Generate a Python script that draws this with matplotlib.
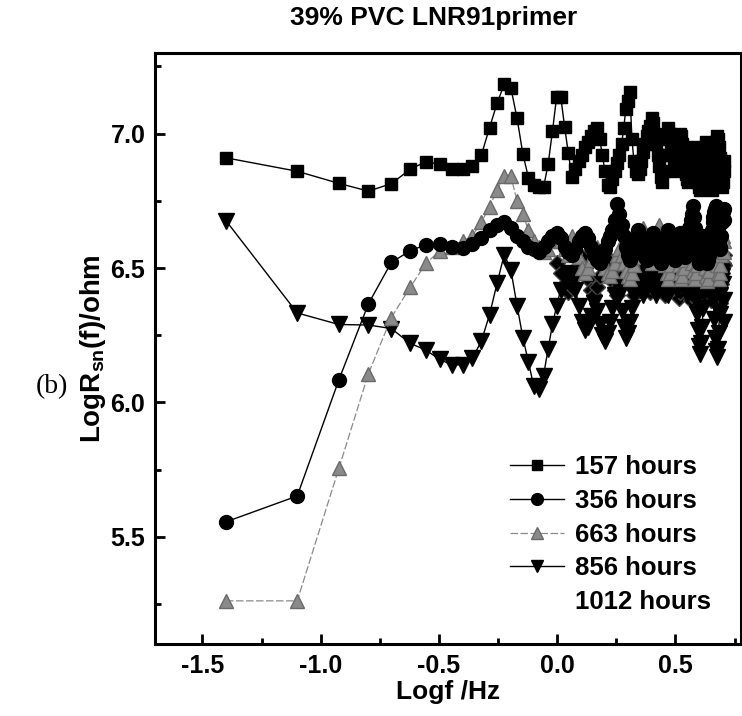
import numpy as np
import matplotlib
matplotlib.use("Agg")
import matplotlib.pyplot as plt
from matplotlib.lines import Line2D

plt.rcParams['font.family'] = ['Liberation Sans', 'DejaVu Sans']
plt.rcParams['font.weight'] = 'bold'
plt.rcParams['mathtext.fontset'] = 'custom'
plt.rcParams['mathtext.rm'] = 'Liberation Sans:bold'
plt.rcParams['mathtext.bf'] = 'Liberation Sans:bold'

# frequency grid: harmonics of the base frequency (Hz)
base_freq = 0.0398
harmonic = np.arange(1, 129)
logf = np.log10(harmonic * base_freq)

h157 = [6.91, 6.86, 6.815, 6.786, 6.814, 6.867, 6.896, 6.886, 6.867, 6.867, 6.879, 6.919,
        7.022, 7.113, 7.184, 7.171, 7.057, 6.923, 6.836, 6.81, 6.80, 6.80, 6.886, 7.01,
        7.138, 7.138, 7.026, 6.927,
        6.84, 6.87, 6.90,
        6.92, 6.95, 6.97, 6.99, 7.01, 7.02, 6.98,
        6.92, 6.86, 6.81, 6.80, 6.83, 6.86, 6.89,
        6.92, 6.96, 7.02, 7.09, 7.12,
        7.155, 6.98, 6.90, 6.86, 6.85, 6.87,
        6.90, 6.93, 6.96, 6.99, 7.01, 7.03, 7.06,
        7.04, 7.00, 6.96, 6.92, 6.88, 6.84, 6.82, 6.86,
        6.92, 6.98, 7.02, 7.00, 6.96, 6.92, 6.89, 6.86,
        6.88, 6.93, 6.97, 7.00, 6.99, 6.96, 6.92, 6.88, 6.85, 6.83,
        6.82, 6.84, 6.87, 6.90, 6.93, 6.95, 6.93, 6.89, 6.85, 6.82,
        6.80, 6.79, 6.81, 6.84, 6.88, 6.92, 6.95, 6.97, 6.95, 6.91, 6.87, 6.83, 6.80,
        6.79, 6.82, 6.86, 6.90, 6.94, 6.97, 6.99, 6.98, 6.95, 6.91, 6.87, 6.83, 6.80, 6.82, 6.86, 6.90]

h356 = [5.556, 5.652, 6.084, 6.367, 6.521, 6.564, 6.587, 6.59, 6.58, 6.575, 6.59, 6.61,
        6.64, 6.66, 6.67, 6.65, 6.62, 6.60, 6.58, 6.57, 6.56, 6.58, 6.60, 6.62, 6.63, 6.61, 6.58, 6.56,
        6.55, 6.57, 6.60, 6.62, 6.63, 6.61, 6.58, 6.55, 6.53, 6.52,
        6.54, 6.57, 6.60, 6.62, 6.64, 6.68, 6.74, 6.70, 6.66, 6.62,
        6.58, 6.55, 6.53, 6.55, 6.58, 6.61, 6.64, 6.62, 6.59, 6.56,
        6.54, 6.53, 6.55, 6.58, 6.61, 6.63, 6.61, 6.58, 6.55, 6.53,
        6.52, 6.54, 6.57, 6.60, 6.62, 6.64, 6.62, 6.59, 6.56, 6.54,
        6.53, 6.55, 6.58, 6.61, 6.63, 6.61, 6.58, 6.55, 6.54, 6.56,
        6.59, 6.62, 6.65, 6.68, 6.70, 6.73, 6.69, 6.65, 6.61, 6.57,
        6.54, 6.52, 6.54, 6.57, 6.60, 6.62, 6.60, 6.57, 6.54, 6.52,
        6.53, 6.55, 6.58, 6.61, 6.64, 6.67, 6.69, 6.71, 6.72, 6.73,
        6.70, 6.65, 6.60, 6.57, 6.58, 6.62, 6.67, 6.71, 6.72, 6.68]

h663 = [5.262, 5.262, 5.755, 6.107, 6.316, 6.428, 6.517, 6.564, 6.58, 6.60, 6.62, 6.67,
        6.728, 6.79, 6.842, 6.842, 6.75, 6.70, 6.64, 6.60,
        6.58, 6.56, 6.57, 6.60, 6.62, 6.60, 6.57, 6.55,
        6.62, 6.58, 6.54, 6.50, 6.48, 6.50, 6.53, 6.56, 6.58, 6.56,
        6.53, 6.50, 6.48, 6.47, 6.49, 6.52, 6.55, 6.57, 6.55, 6.52,
        6.49, 6.47, 6.46, 6.48, 6.51, 6.54, 6.57, 6.60, 6.63, 6.65,
        6.63, 6.60, 6.57, 6.54, 6.52, 6.54, 6.57, 6.61, 6.65, 6.66,
        6.63, 6.59, 6.55, 6.51, 6.48, 6.46, 6.48, 6.51, 6.54, 6.57,
        6.59, 6.57, 6.54, 6.51, 6.48, 6.46, 6.47, 6.50, 6.53, 6.56,
        6.58, 6.60, 6.58, 6.55, 6.52, 6.49, 6.47, 6.46, 6.48, 6.51,
        6.54, 6.57, 6.59, 6.61, 6.59, 6.56, 6.53, 6.50, 6.47, 6.45,
        6.46, 6.49, 6.52, 6.55, 6.58, 6.60, 6.62, 6.60, 6.57, 6.54,
        6.51, 6.48, 6.46, 6.48, 6.51, 6.55, 6.58, 6.62, 6.60, 6.56]

h856 = [6.676, 6.333, 6.29, 6.288, 6.275, 6.22, 6.195, 6.16, 6.14, 6.14, 6.165, 6.227,
        6.326, 6.444, 6.55, 6.494, 6.36, 6.24, 6.15, 6.06, 6.05, 6.10, 6.20, 6.29,
        6.36, 6.42, 6.46, 6.48,
        6.47, 6.42, 6.36, 6.30, 6.27, 6.28, 6.32, 6.37, 6.34, 6.29,
        6.25, 6.23, 6.26, 6.30, 6.35, 6.40, 6.44, 6.40, 6.34, 6.28,
        6.24, 6.26, 6.30, 6.35, 6.40, 6.44, 6.47, 6.45, 6.42, 6.40,
        6.42, 6.45, 6.48, 6.50, 6.48, 6.45, 6.42, 6.40, 6.43, 6.46,
        6.49, 6.51, 6.48, 6.45, 6.42, 6.40, 6.42, 6.45, 6.48, 6.50,
        6.47, 6.44, 6.42, 6.44, 6.47, 6.50, 6.52, 6.49, 6.45, 6.42,
        6.40, 6.42, 6.45, 6.48, 6.50, 6.47, 6.44, 6.41, 6.38, 6.33,
        6.27, 6.21, 6.18, 6.22, 6.28, 6.35, 6.41, 6.45, 6.47, 6.45,
        6.42, 6.44, 6.47, 6.49, 6.47, 6.43, 6.38, 6.31, 6.24, 6.19,
        6.17, 6.20, 6.26, 6.33, 6.40, 6.45, 6.47, 6.44, 6.38, 6.30]

# 1012 hours only shows from logf = 0 upward (harmonic 25 on)
h1012_start = 25
h1012 = [6.52, 6.48, 6.44, 6.41, 6.43, 6.47, 6.51, 6.54,
         6.50, 6.46, 6.42, 6.40, 6.43, 6.47, 6.52, 6.55,
         6.53, 6.49, 6.45, 6.42, 6.40, 6.43, 6.47, 6.51,
         6.54, 6.51, 6.47, 6.43, 6.40, 6.42, 6.46, 6.50,
         6.53, 6.55, 6.52, 6.48, 6.44, 6.41, 6.43, 6.47,
         6.51, 6.54, 6.56, 6.53, 6.49, 6.45, 6.42, 6.40,
         6.43, 6.47, 6.51, 6.54, 6.57, 6.54, 6.50, 6.46,
         6.42, 6.39, 6.41, 6.45, 6.49, 6.53, 6.56, 6.53,
         6.49, 6.45, 6.41, 6.38, 6.40, 6.44, 6.48, 6.52,
         6.55, 6.52, 6.48, 6.44, 6.40, 6.38, 6.41, 6.45,
         6.49, 6.53, 6.56, 6.53, 6.49, 6.45, 6.41, 6.38,
         6.40, 6.44, 6.48, 6.52, 6.55, 6.52, 6.48, 6.44,
         6.40, 6.37, 6.40, 6.44, 6.48, 6.52, 6.55, 6.51]

labels = ['157 hours', '356 hours', '663 hours', '856 hours', '1012 hours']

fig = plt.figure(figsize=(7.42, 7.16), dpi=100)
ax = fig.add_axes([0.209, 0.100, 0.789, 0.826])

ax.plot(logf[h1012_start - 1:], h1012, color='#dddddd', lw=0.8, marker='D', ms=8,
        mfc='black', mec='#444444', zorder=2)
l856, = ax.plot(logf, h856, color='black', lw=1.0, marker='v', ms=11, mfc='black', mec='black', zorder=3)
l663, = ax.plot(logf, h663, color='#8a8a8a', lw=0.9, ls=(0, (6, 2)), marker='^', ms=10,
                mfc='#8a8a8a', mec='#6a6a6a', zorder=4)
l356, = ax.plot(logf, h356, color='black', lw=1.0, marker='o', ms=10, mfc='black', mec='black', zorder=5)
l157, = ax.plot(logf, h157, color='black', lw=1.0, marker='s', ms=9, mfc='black', mec='black', zorder=6)
l1012 = Line2D([], [], color='none')

ax.set_xlim(-1.70, 0.775)
ax.set_ylim(5.10, 7.30)
ax.set_xticks([-1.5, -1.0, -0.5, 0.0, 0.5])
ax.set_xticks(np.arange(-1.5, 0.8, 0.25), minor=True)
ax.set_yticks([5.5, 6.0, 6.5, 7.0])
ax.set_yticks([5.25, 5.75, 6.25, 6.75, 7.25], minor=True)
ax.xaxis.set_major_formatter(matplotlib.ticker.FormatStrFormatter('%.1f'))
ax.yaxis.set_major_formatter(matplotlib.ticker.FormatStrFormatter('%.1f'))
ax.tick_params(which='major', direction='in', length=7, width=2, labelsize=18, pad=7)
ax.tick_params(which='minor', direction='in', length=4, width=2)
ax.tick_params(top=False, right=False, which='both')
for sp in ax.spines.values():
    sp.set_linewidth(2.2)

ax.set_xlabel('Logf /Hz', fontsize=19, fontweight='bold', labelpad=1)
ax.set_ylabel(r'LogR$_{\mathbf{sn}}$(f)/ohm', fontsize=20, fontweight='bold', labelpad=2)
fig.text(0.585, 0.975, '39% PVC LNR91primer', fontsize=19, fontweight='bold',
         ha='center', va='center')

fig.text(0.07, 0.46, '(b)', fontsize=20, family='Liberation Serif', fontweight='normal',
         ha='center', va='center')

leg = ax.legend([l157, l356, l663, l856, l1012], labels, loc='upper left',
                bbox_to_anchor=(0.585, 0.342), frameon=False, fontsize=18.5,
                handlelength=2.1, handletextpad=0.4, labelspacing=0.38, borderpad=0,
                markerscale=0.85)

fig.savefig('out.png', dpi=100)
